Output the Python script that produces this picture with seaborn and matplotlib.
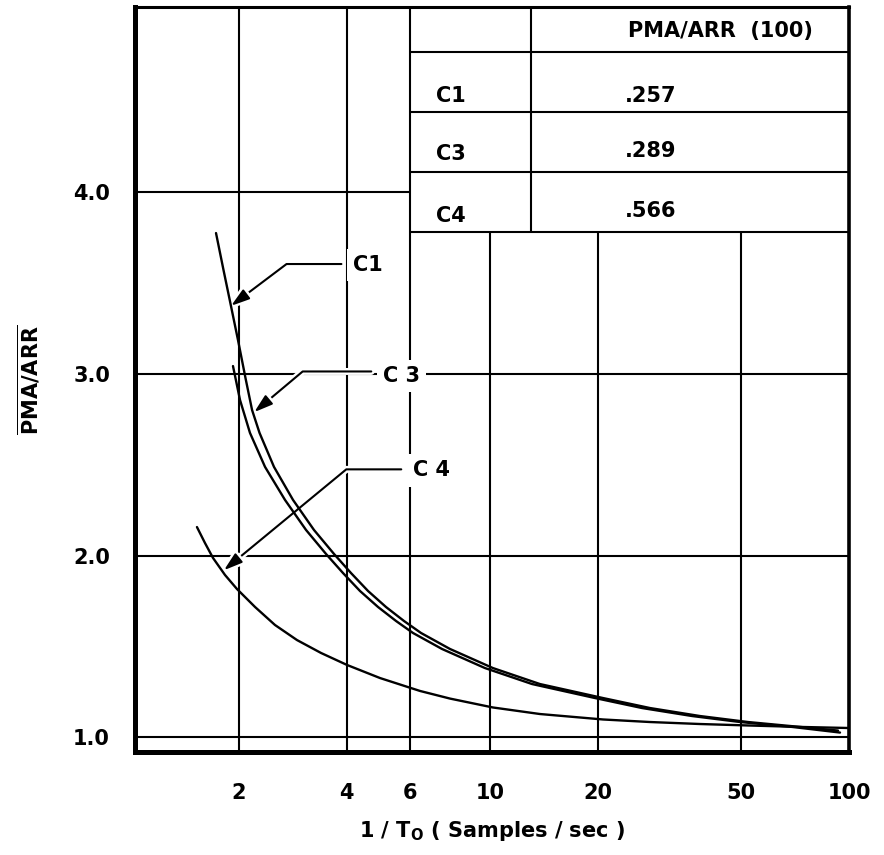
import matplotlib
matplotlib.use("Agg")
import matplotlib.pyplot as plt
import matplotlib.patheffects as pe
from matplotlib.ticker import NullLocator
import pandas as pd
import seaborn as sns

# Sampling rate 1/T0 (samples/sec) and normalized PMA/ARR for each configuration
c1_rate = [1.731, 1.816, 1.905, 1.993, 2.091, 2.181, 2.288, 2.510, 2.836, 3.243,
           3.687, 4.111, 4.586, 5.145, 5.774, 6.440, 7.754, 10.21, 13.80, 20.67,
           27.93, 38.48, 52.35, 73.05, 93.2]
c1_ratio = [3.776, 3.573, 3.375, 3.187, 2.978, 2.802, 2.676, 2.489, 2.307, 2.142,
            2.010, 1.905, 1.806, 1.718, 1.641, 1.575, 1.487, 1.382, 1.294, 1.217,
            1.162, 1.118, 1.085, 1.058, 1.038]

c3_rate = [1.930, 2.019, 2.152, 2.370, 2.694, 3.082, 3.503, 3.906, 4.356, 4.889,
           5.487, 6.117, 7.367, 9.70, 13.12, 19.64, 26.54, 36.57, 49.74, 69.4, 94.4]
c3_ratio = [3.044, 2.857, 2.676, 2.489, 2.307, 2.142, 2.010, 1.905, 1.806, 1.718,
            1.641, 1.575, 1.487, 1.382, 1.294, 1.217, 1.162, 1.118, 1.085, 1.058, 1.027]

c4_rate = [1.532, 1.613, 1.698, 1.834, 1.980, 2.223, 2.526, 2.909, 3.393, 4.008,
           4.952, 6.397, 7.754, 10.21, 13.80, 20.67, 27.93, 38.48, 52.35, 73.05, 100.0]
c4_ratio = [2.158, 2.070, 1.988, 1.894, 1.817, 1.718, 1.619, 1.536, 1.465, 1.399,
            1.327, 1.256, 1.214, 1.165, 1.129, 1.099, 1.085, 1.074, 1.066, 1.058, 1.052]

# Inset table: PMA/ARR at 100 samples/sec
table_header = "PMA/ARR  (100)"
table_rows = ["C1", "C3", "C4"]
table_values = [".257", ".289", ".566"]

# Axis ticks
x_ticks = [2, 4, 6, 10, 20, 50, 100]
x_tick_labels = ["2", "4", "6", "10", "20", "50", "100"]
y_ticks = [1.0, 2.0, 3.0, 4.0]
y_tick_labels = ["1.0", "2.0", "3.0", "4.0"]

sns.set_style("white")
plt.rcParams["font.family"] = ["DejaVu Sans"]
plt.rcParams["font.weight"] = "bold"
plt.rcParams["axes.labelweight"] = "bold"
plt.rcParams["mathtext.fontset"] = "dejavusans"
for key in ["text.color", "axes.labelcolor", "xtick.color", "ytick.color"]:
    plt.rcParams[key] = "black"

fig = plt.figure(figsize=(8.84, 8.55), dpi=100)
ax = fig.add_axes([135 / 884, 103 / 855, 714 / 884, 745 / 855])

df = pd.concat(
    [
        pd.DataFrame({"rate": r, "ratio": v, "config": n})
        for n, r, v in [("C1", c1_rate, c1_ratio),
                        ("C3", c3_rate, c3_ratio),
                        ("C4", c4_rate, c4_ratio)]
    ],
    ignore_index=True,
)

sns.lineplot(data=df, x="rate", y="ratio", hue="config", palette=["black"] * 3,
             estimator=None, sort=False, legend=False, lw=1.7, ax=ax, zorder=5)

x_lo, x_hi = 1.03, 100
y_lo, y_hi = 0.92, 5.02
ax.set_xscale("log")
ax.set_xlim(x_lo, x_hi)
ax.set_ylim(y_lo, y_hi)

# Grid drawn by hand so it can stop at the inset table
grid_kw = dict(color="black", lw=1.5, zorder=1)
table_left, table_split = 6, 13
row_lines = [4.77, 4.44, 4.11, 3.78]
table_bottom = row_lines[-1]
ax.hlines([1.0, 2.0, 3.0], x_lo, x_hi, **grid_kw)
ax.hlines(4.0, x_lo, table_left, **grid_kw)
ax.vlines([2, 4, table_left], y_lo, y_hi, **grid_kw)
ax.vlines([10, 20, 50], y_lo, table_bottom, **grid_kw)

# Inset table
ax.hlines(row_lines, table_left, x_hi, **grid_kw)
ax.vlines(table_split, table_bottom, y_hi, **grid_kw)
txt_kw = dict(fontsize=15, fontweight="bold", zorder=3)
ax.text(44, 4.89, table_header, ha="center", va="center", **txt_kw)
row_label_y = [4.53, 4.21, 3.87]
row_value_y = [4.53, 4.23, 3.90]
for name, val, ly, vy in zip(table_rows, table_values, row_label_y, row_value_y):
    ax.text(7.1, ly, name, ha="left", va="center", **txt_kw)
    ax.text(28, vy, val, ha="center", va="center", **txt_kw)

# Curve call-outs
callouts = [
    ("C1", (1.905, 3.375), (4.17, 3.60), 37, 0.55),
    ("C 3", (2.21, 2.79), (5.05, 2.99), 40, 0.72),
    ("C 4", (1.82, 1.92), (6.12, 2.47), 39.5, 0.55),
]
for label, tip, spot, ang, rel in callouts:
    ann = ax.annotate(
        label, xy=tip, xytext=spot, ha="left", va="center",
        fontsize=15, fontweight="bold", zorder=3,
        bbox=dict(boxstyle="square,pad=0.3", fc="white", ec="none"),
        arrowprops=dict(
            arrowstyle="-|>,head_length=0.8,head_width=0.25",
            connectionstyle=f"angle,angleA=0,angleB={ang},rad=0",
            color="black", lw=1.5, shrinkA=4, shrinkB=0,
            mutation_scale=14, relpos=(0, rel),
        ),
    )
    ann.arrow_patch.set_path_effects(
        [pe.Stroke(linewidth=5, foreground="white"), pe.Normal()])

# Axes frame and ticks
for side, w in [("left", 3.6), ("bottom", 3.6), ("top", 2.2), ("right", 2.6)]:
    ax.spines[side].set_visible(True)
    ax.spines[side].set_color("black")
    ax.spines[side].set_linewidth(w)

ax.set_xticks(x_ticks)
ax.set_xticklabels(x_tick_labels)
ax.xaxis.set_minor_locator(NullLocator())
ax.set_yticks(y_ticks)
ax.set_yticklabels(y_tick_labels)
ax.tick_params(axis="both", length=0, labelsize=15, colors="black")
ax.tick_params(axis="x", pad=22)
ax.tick_params(axis="y", pad=18)
for lab in ax.get_xticklabels() + ax.get_yticklabels():
    lab.set_fontweight("bold")

ax.set_xlabel(r"1 / T$_{\mathbf{O}}$ ( Samples / sec )", fontsize=15,
              fontweight="bold", labelpad=12)
ax.set_ylabel(r"$\overline{\mathbf{PMA/ARR}}$", fontsize=15)
ax.yaxis.set_label_coords(-0.13, 0.5)

fig.savefig("out.png", dpi=100, facecolor="white")
